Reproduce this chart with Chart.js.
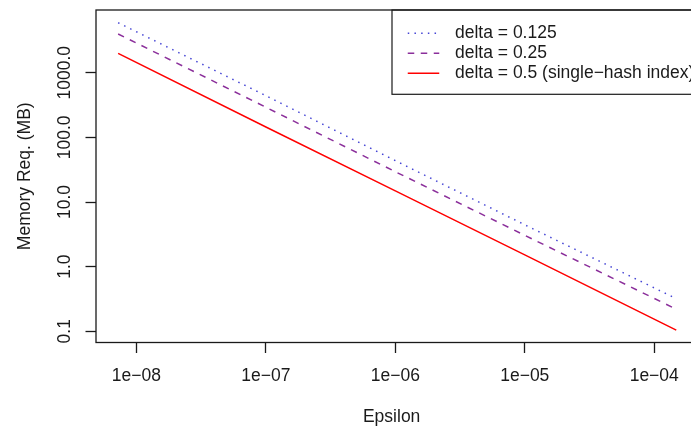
<!DOCTYPE html>
<html><head><meta charset="utf-8">
<script src="https://cdn.jsdelivr.net/npm/chart.js@4.4.1/dist/chart.umd.min.js"></script>
<style>html,body{margin:0;padding:0;background:#fff;overflow:hidden}#wrap{width:691px;height:428px}</style>
</head><body><div id="wrap"><canvas id="c" width="691" height="428"></canvas></div>
<script>
// ---- data ----
const epsilon = [7.22e-9, 1e-7, 1e-6, 1e-5, 1.48e-4];
const memDelta0125 = [5930, 441, 43.6, 4.44, 0.32];
const memDelta025 = [3975, 292, 29.4, 3.05, 0.22];
const memDelta05 = [1995, 144.5, 14.9, 1.52, 0.104];
const seriesLabels = ['delta = 0.125', 'delta = 0.25', 'delta = 0.5 (single\u2212hash index)'];
const xTickValues = [1e-8, 1e-7, 1e-6, 1e-5, 1e-4];
const xTickLabels = ['1e\u221208', '1e\u221207', '1e\u221206', '1e\u221205', '1e\u221204'];
const yTickValues = [0.1, 1, 10, 100, 1000];
const yTickLabels = ['0.1', '1.0', '10.0', '100.0', '1000.0'];
const xTitle = 'Epsilon';
const yTitle = 'Memory Req. (MB)';

// ---- styling ----
const FONT = "'Liberation Sans', Arial, Helvetica, sans-serif";
const FS = 17.5;
const INK = '#1a1a1a';
const toPts = ys => epsilon.map((x, i) => ({x: x, y: ys[i]}));

const frame = {
  id: 'frame',
  afterDatasetsDraw(chart) {
    const {ctx, chartArea: a} = chart;
    ctx.save();
    ctx.strokeStyle = INK;
    ctx.lineWidth = 1.3;
    ctx.strokeRect(a.left, a.top, a.right - a.left + 20, a.bottom - a.top);
    ctx.restore();
  }
};

const legendBox = {
  id: 'legendBox',
  afterDraw(chart) {
    const {ctx, chartArea: a} = chart;
    ctx.save();
    ctx.font = FS + 'px ' + FONT;
    const xchar = 15.75, rowH = 20;
    const left = 392, top = a.top;
    const widths = chart.data.datasets.map(d => ctx.measureText(d.label).width);
    const w = Math.max.apply(null, widths) + 4.5 * xchar;
    const h = 84.3;
    ctx.strokeStyle = INK; ctx.lineWidth = 1.2;
    ctx.strokeRect(left, top, w, h);
    chart.data.datasets.forEach((d, i) => {
      const y = top + 23.3 + i * rowH;
      ctx.strokeStyle = d.borderColor; ctx.lineWidth = d.borderWidth;
      ctx.setLineDash(d.borderDash || []);
      ctx.beginPath(); ctx.moveTo(left + xchar, y); ctx.lineTo(left + 3 * xchar, y); ctx.stroke();
      ctx.setLineDash([]);
      ctx.fillStyle = INK; ctx.textBaseline = 'middle'; ctx.textAlign = 'left';
      ctx.fillText(d.label, left + 4 * xchar, y);
    });
    ctx.restore();
  }
};

Chart.defaults.font.family = FONT;
Chart.defaults.font.size = FS;
Chart.defaults.color = INK;

new Chart(document.getElementById('c'), {
  type: 'scatter',
  data: {
    datasets: [
      {label: seriesLabels[0], data: toPts(memDelta0125), showLine: true, borderColor: '#4545d5', borderWidth: 1.5, borderDash: [1.5, 5.2], pointRadius: 0},
      {label: seriesLabels[1], data: toPts(memDelta025), showLine: true, borderColor: '#8b2f9b', borderWidth: 1.5, borderDash: [6.5, 6.5], pointRadius: 0},
      {label: seriesLabels[2], data: toPts(memDelta05), showLine: true, borderColor: '#ff0000', borderWidth: 1.5, pointRadius: 0}
    ]
  },
  options: {
    responsive: false,
    animation: false,
    devicePixelRatio: 1,
    layout: {padding: {top: 10, left: 0, right: 0, bottom: 0}},
    plugins: {legend: {display: false}, tooltip: {enabled: false}},
    scales: {
      x: {
        type: 'logarithmic',
        position: 'bottom',
        min: 4.87e-9,
        max: 1.801e-4,
        bounds: 'data',
        afterBuildTicks: s => { s.ticks = xTickValues.map(v => ({value: v})); },
        afterFit: s => { s.height = 85.5; },
        ticks: {
          callback: (v, i) => xTickLabels[i],
          font: {size: FS}, color: INK, padding: 12.2,
          maxRotation: 0, minRotation: 0, autoSkip: false
        },
        grid: {display: true, drawOnChartArea: false, drawTicks: true, tickLength: 10.5, tickWidth: 1.3, tickColor: INK},
        border: {display: false},
        title: {display: true, text: xTitle, font: {size: FS}, color: INK, padding: {top: 0, bottom: 0.8}}
      },
      y: {
        type: 'logarithmic',
        position: 'left',
        min: 0.0671,
        max: 9333,
        bounds: 'data',
        afterBuildTicks: s => { s.ticks = yTickValues.map(v => ({value: v})); },
        afterFit: s => { s.width = 96; },
        ticks: {
          callback: (v, i) => yTickLabels[i],
          font: {size: FS}, color: INK, padding: -6.26,
          minRotation: 90, maxRotation: 90, crossAlign: 'center', autoSkip: false
        },
        grid: {display: true, drawOnChartArea: false, drawTicks: true, tickLength: 10.5, tickWidth: 1.3, tickColor: INK},
        border: {display: false},
        title: {display: true, text: yTitle, font: {size: FS}, color: INK, padding: {top: 14.5, bottom: 0}}
      }
    }
  },
  plugins: [frame, legendBox]
});
</script>
</body></html>
